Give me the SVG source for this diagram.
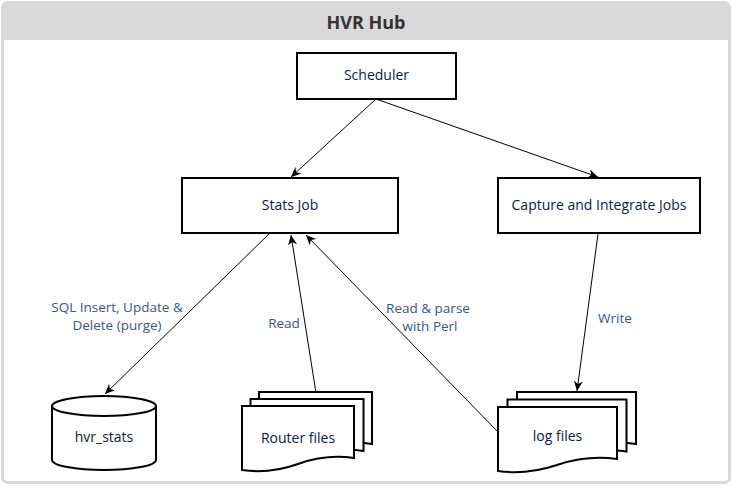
<svg xmlns="http://www.w3.org/2000/svg" width="732" height="486" viewBox="0 0 732 486">
<defs>
<marker id="arr" markerWidth="12" markerHeight="10" refX="10" refY="4.5" orient="auto" markerUnits="userSpaceOnUse">
<path d="M0,0 L10,4.5 L0,9 L3,4.5 Z" fill="#000"/>
</marker>
<style>
.box{fill:#fff;stroke:#000;stroke-width:2}
.doc{fill:#fff;stroke:#000;stroke-width:2;stroke-linejoin:miter}
.nt{font-family:"Open Sans","Liberation Sans",sans-serif;font-size:14px;fill:#0d1b3e;text-anchor:middle}
.et{font-family:"Open Sans","Liberation Sans",sans-serif;font-size:13.5px;fill:#3a5688;text-anchor:middle}
.edge{stroke:#000;stroke-width:1;fill:none;marker-end:url(#arr)}
</style>
</defs>
<g id="container">
<path d="M2.5,40 V8 Q2.5,2.5 8,2.5 H724 Q729.5,2.5 729.5,8 V40 Z" fill="#d9d9d9"/>
<rect x="2.5" y="2.5" width="727" height="480" rx="5" fill="none" stroke="#d9d9d9" stroke-width="3"/>
<text x="366" y="29" font-family="Open Sans,Liberation Sans,sans-serif" font-size="18" font-weight="bold" fill="#333" text-anchor="middle">HVR Hub</text>
</g>
<g id="connectors">
<line class="edge" x1="376" y1="99" x2="291" y2="177"/>
<line class="edge" x1="376" y1="99" x2="598" y2="177"/>
<line class="edge" x1="270" y1="233" x2="105" y2="394"/>
<line class="edge" x1="316" y1="393" x2="291" y2="235"/>
<line class="edge" x1="498" y1="432" x2="306" y2="235"/>
<line class="edge" x1="598" y1="234" x2="577" y2="391"/>
<text class="et" x="117" y="312">SQL Insert, Update &amp;</text>
<text class="et" x="117" y="330">Delete (purge)</text>
<text class="et" x="284" y="328">Read</text>
<text class="et" x="428" y="313">Read &amp; parse</text>
<text class="et" x="430" y="331">with Perl</text>
<text class="et" x="615" y="323">Write</text>
</g>
<g id="scheduler">
<rect class="box" x="297" y="53" width="159" height="46"/>
<text class="nt" x="376.5" y="80">Scheduler</text>
</g>
<g id="stats-job">
<rect class="box" x="182" y="178" width="216" height="55"/>
<text class="nt" x="290" y="210">Stats Job</text>
</g>
<g id="capture-integrate">
<rect class="box" x="498" y="178" width="202" height="55"/>
<text class="nt" x="599" y="210">Capture and Integrate Jobs</text>
</g>
<g id="hvr-stats">
<path class="box" d="M52,406 A52,10 0 0 1 156,406 V460 A52,10 0 0 1 52,460 Z"/>
<path d="M52,406 A52,10 0 0 0 156,406" fill="none" stroke="#000" stroke-width="2"/>
<text class="nt" x="104" y="442">hvr_stats</text>
</g>
<g id="router-files">
<path class="doc" d="M259,392 H372 V444 Q344,440 316,450 Q288,460 259,456 Z"/>
<path class="doc" d="M250.5,399 H363.5 V451 Q335.5,447 307.5,457 Q279.5,467 250.5,463 Z"/>
<path class="doc" d="M242,406 H354 V458 Q326,454 298,464 Q270,474 242,470 Z"/>
<text class="nt" x="298" y="443">Router files</text>
</g>
<g id="log-files">
<path class="doc" d="M517,392 H636 V444 Q606,440 576,450 Q546,460 517,456 Z"/>
<path class="doc" d="M507.5,399.5 H626.5 V451.5 Q596.5,447.5 566.5,457.5 Q536.5,467.5 507.5,463.5 Z"/>
<path class="doc" d="M498,407 H617 V459 Q587,455 557,465 Q527,475 498,471 Z"/>
<text class="nt" x="557.5" y="441">log files</text>
</g>
</svg>
